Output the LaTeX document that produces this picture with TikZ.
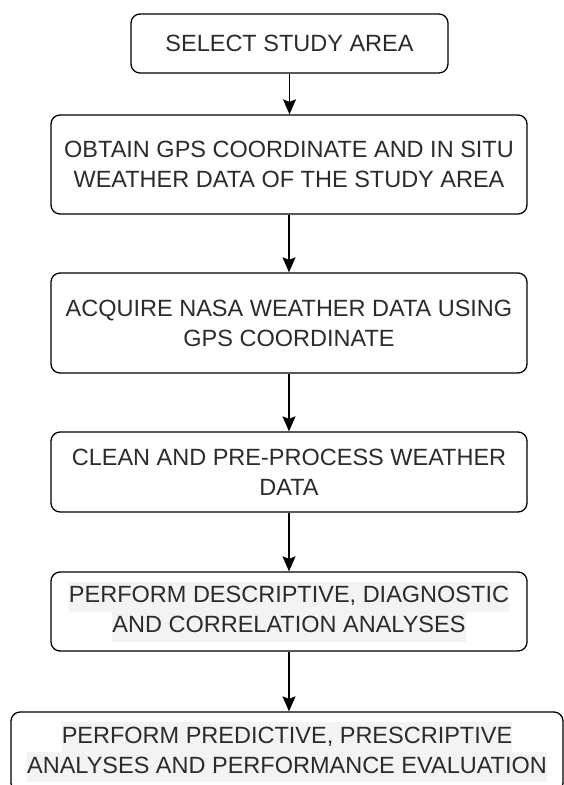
\documentclass[tikz,border=0pt]{standalone}
\usepackage{fontspec}
\setmainfont{Liberation Sans}
\usetikzlibrary{arrows.meta}
\definecolor{txtgray}{HTML}{2B2B2B}
\definecolor{hlgray}{HTML}{F3F3F3}
\newcommand\hlline[1]{{\setlength\fboxsep{0pt}\colorbox{hlgray}{\strut #1}}}
\tikzset{
  flowbox/.style={draw=black, line width=1.3pt, rounded corners=9pt, fill=white,
    inner sep=0pt, align=center, text=txtgray,
    font=\fontsize{23.5}{30}\selectfont},
  flowarrow/.style={draw=black, line width=1.3pt,
    -{Stealth[length=15pt,width=13pt,inset=2.5pt]}}
}
\begin{document}
\begin{tikzpicture}[x=1pt,y=-1pt]
\useasboundingbox (0,0) rectangle (564,785);
\clip (0,0) rectangle (564,785);
\node[flowbox, minimum width=317pt, minimum height=59pt] (b1) at (289.5,43.5) {SELECT STUDY AREA};
\node[flowbox, minimum width=476pt, minimum height=99pt] (b2) at (289,164.5) {OBTAIN GPS COORDINATE AND IN SITU\\WEATHER DATA OF THE STUDY AREA};
\node[flowbox, minimum width=476pt, minimum height=100pt] (b3) at (289,323) {ACQUIRE NASA WEATHER DATA USING\\GPS COORDINATE};
\node[flowbox, minimum width=476pt, minimum height=80pt] (b4) at (289,472) {CLEAN AND PRE-PROCESS WEATHER\\DATA};
\node[flowbox, minimum width=476pt, minimum height=79pt] (b5) at (289,611.5) {\hlline{PERFORM DESCRIPTIVE, DIAGNOSTIC}\\\hlline{AND CORRELATION ANALYSES}};
\node[flowbox, minimum width=552pt, minimum height=80pt] (b6) at (287,752) {\hlline{PERFORM PREDICTIVE, PRESCRIPTIVE}\\\hlline{ANALYSES AND PERFORMANCE EVALUATION}};
\draw[flowarrow] (b1.south) -- (b1.south |- b2.north);
\draw[flowarrow] (b2.south) -- (b3.north);
\draw[flowarrow] (b3.south) -- (b4.north);
\draw[flowarrow] (b4.south) -- (b5.north);
\draw[flowarrow] (b5.south) -- (b5.south |- b6.north);
\end{tikzpicture}
\end{document}
